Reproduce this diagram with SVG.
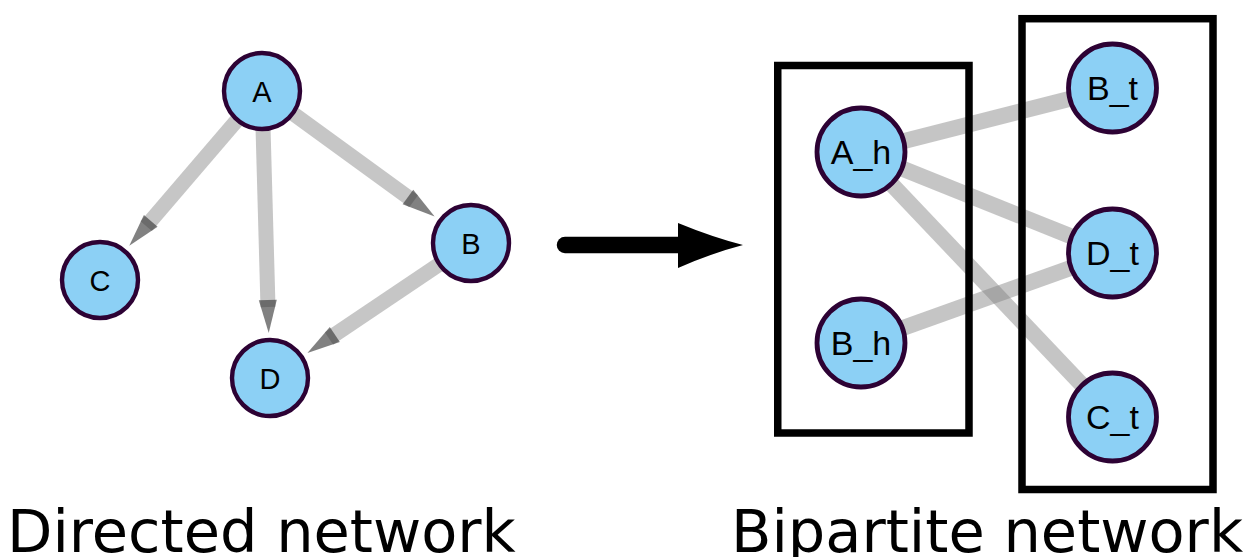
<svg xmlns="http://www.w3.org/2000/svg" width="1253" height="557" viewBox="0 0 1253 557">
  <style>
    .node circle { fill: #8cd0f5; stroke: #2d0234; }
    .small circle { stroke-width: 4.4; }
    .big circle { stroke-width: 4.8; }
    .node text { font-family: "Liberation Sans", Arial, sans-serif; fill: #000; text-anchor: middle; }
    .small text { font-size: 29px; }
    .big text { font-size: 34px; }
    .dedge { stroke: #c6c6c6; stroke-width: 15; fill: none; stroke-linecap: butt; marker-end: url(#ah); }
    .bedge { stroke: #848484; stroke-opacity: 0.47; stroke-width: 16; fill: none; }
    .box { fill: none; stroke: #000; stroke-width: 7.5; }
    .title { font-family: "DejaVu Sans", sans-serif; font-size: 59px; fill: #000; }
  </style>
  <defs>
    <marker id="ah" markerUnits="userSpaceOnUse" markerWidth="40" markerHeight="24" viewBox="0 -12 40 24" refX="7" refY="0" orient="auto" overflow="visible">
      <path d="M0,-9 L33,0 L0,9 Z" fill="#333" fill-opacity="0.62"/>
    </marker>
  </defs>
  <rect width="1253" height="557" fill="#fff"/>

  <!-- directed network connectors -->
  <g id="connectors-directed">
    <line class="dedge" x1="262" y1="91" x2="146.2" y2="226.1"/>
    <line class="dedge" x1="262" y1="91" x2="268.0" y2="307.0"/>
    <line class="dedge" x1="262" y1="91" x2="413.6" y2="201.2"/>
    <line class="dedge" x1="471" y1="243" x2="329.0" y2="338.4"/>
  </g>

  <g id="node-A" class="node small"><circle cx="262" cy="91" r="38"/><text x="262" y="101.5">A</text></g>
  <g id="node-B" class="node small"><circle cx="471" cy="243" r="38"/><text x="471" y="253.5">B</text></g>
  <g id="node-C" class="node small"><circle cx="100" cy="280" r="38"/><text x="100" y="290.5">C</text></g>
  <g id="node-D" class="node small"><circle cx="270" cy="378" r="38"/><text x="270" y="388.5">D</text></g>

  <!-- transformation arrow -->
  <g id="transform-arrow">
    <line x1="565" y1="245" x2="690" y2="245" stroke="#000" stroke-width="16.5" stroke-linecap="round"/>
    <path d="M678,223 Q712,237 743,245 Q712,253 678,268 Z" fill="#000"/>
  </g>

  <!-- bipartite connectors -->
  <g id="connectors-bipartite">
    <line class="bedge" x1="861" y1="152" x2="1112.5" y2="88"/>
    <line class="bedge" x1="861" y1="152" x2="1112.5" y2="253"/>
    <line class="bedge" x1="861" y1="152" x2="1112.5" y2="417"/>
    <line class="bedge" x1="861" y1="343" x2="1112.5" y2="253"/>
  </g>

  <g id="group-heads"><rect class="box" x="777.75" y="65.5" width="191.25" height="367.5"/></g>
  <g id="group-tails"><rect class="box" x="1022" y="18.7" width="191" height="470.8"/></g>

  <g id="node-A_h" class="node big"><circle cx="861" cy="152" r="44"/><text x="861" y="164">A_h</text></g>
  <g id="node-B_h" class="node big"><circle cx="861" cy="343" r="44"/><text x="861" y="355">B_h</text></g>
  <g id="node-B_t" class="node big"><circle cx="1112.5" cy="88" r="44"/><text x="1112.5" y="100">B_t</text></g>
  <g id="node-D_t" class="node big"><circle cx="1112.5" cy="253" r="44"/><text x="1112.5" y="265">D_t</text></g>
  <g id="node-C_t" class="node big"><circle cx="1112.5" cy="417" r="44"/><text x="1112.5" y="429">C_t</text></g>

  <text class="title" x="7" y="551.5">Directed network</text>
  <text class="title" x="731" y="551.5">Bipartite network</text>
</svg>
